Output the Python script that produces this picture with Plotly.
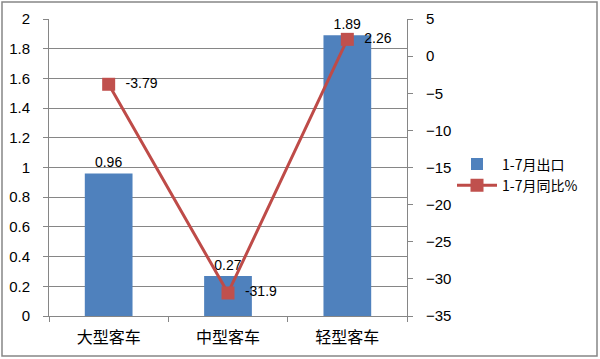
import plotly.graph_objects as go

categories = ["大型客车", "中型客车", "轻型客车"]
exports = [0.96, 0.27, 1.89]
yoy = [-3.79, -31.9, 2.26]
export_labels = ["0.96", "0.27", "1.89"]
yoy_labels = ["-3.79", "-31.9", "2.26"]

W, H = 600, 359
L, R, T, B = 49, 193, 19, 43
pw, ph = W - L - R, H - T - B

font_main = "Liberation Sans, Arial, sans-serif"
font_cjk = "Noto Sans CJK SC, sans-serif"
axis_col = "#868686"

fig = go.Figure()
fig.add_trace(go.Bar(
    x=categories, y=exports, name="1-7月出口",
    marker=dict(color="#4F81BD", line=dict(width=0)),
    width=0.4,
    text=export_labels, textposition="outside", cliponaxis=False,
    textfont=dict(family=font_main, size=14, color="#000000"),
    yaxis="y",
))
fig.add_trace(go.Scatter(
    x=categories, y=yoy, name="1-7月同比%",
    mode="lines+markers+text",
    line=dict(color="#BE4B48", width=3),
    marker=dict(symbol="square", size=13, color="#C0504D"),
    text=["  " + s for s in yoy_labels], textposition="middle right", cliponaxis=False,
    textfont=dict(family=font_main, size=14, color="#000000"),
    yaxis="y2",
))

fig.update_layout(
    width=W, height=H,
    margin=dict(l=L, r=R, t=T, b=B, pad=0, autoexpand=False),
    paper_bgcolor="white", plot_bgcolor="white",
    bargap=0.6,
    showlegend=True,
    legend=dict(x=(452 - L) / pw, y=(316 - 175) / ph, xanchor="left", yanchor="middle",
                font=dict(family=font_cjk, size=14, color="#000000"),
                tracegroupgap=0, itemwidth=40, bgcolor="rgba(0,0,0,0)"),
    xaxis=dict(
        automargin=False,
        showline=True, linecolor=axis_col, linewidth=1,
        ticks="outside", ticklen=5, tickcolor=axis_col, tickson="boundaries",
        tickfont=dict(family=font_cjk, size=16, color="#000000"),
        showgrid=False, ticklabelstandoff=7,
    ),
    yaxis=dict(
        automargin=False,
        range=[0, 2], dtick=0.2, tick0=0,
        showline=True, linecolor=axis_col, linewidth=1,
        ticks="outside", ticklen=5, tickcolor=axis_col,
        showgrid=True, gridcolor=axis_col, gridwidth=1,
        tickfont=dict(family=font_main, size=15, color="#000000"),
        zeroline=False, ticklabelstandoff=10,
    ),
    yaxis2=dict(
        automargin=False,
        range=[-35, 5], dtick=5, tick0=-35,
        overlaying="y", side="right",
        showline=True, linecolor=axis_col, linewidth=1,
        ticks="outside", ticklen=5, tickcolor=axis_col,
        showgrid=False, zeroline=False,
        tickfont=dict(family=font_main, size=15, color="#000000"),
        ticklabelstandoff=10,
    ),
    shapes=[dict(
        type="rect", xref="paper", yref="paper",
        x0=(2 - L) / pw, x1=(597 - L) / pw,
        y0=(316 - 356) / ph, y1=(316 - 2) / ph,
        line=dict(color="#868686", width=1.5), fillcolor="rgba(0,0,0,0)", layer="below",
    )],
)

fig.write_html("out.html")
